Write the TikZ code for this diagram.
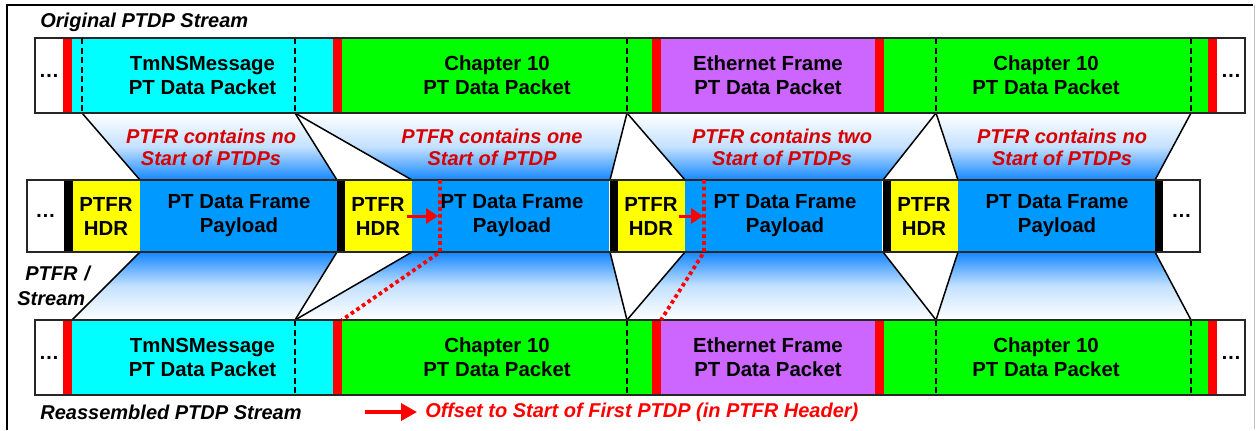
\documentclass[tikz,border=0pt]{standalone}
\usepackage{fontspec}
\setmainfont{Liberation Sans}
\usetikzlibrary{arrows.meta}
\definecolor{pcyan}{RGB}{0,255,255}
\definecolor{pgreen}{RGB}{0,255,0}
\definecolor{ppurple}{RGB}{204,102,255}
\definecolor{pblue}{RGB}{0,153,255}
\definecolor{pyellow}{RGB}{255,255,0}
\definecolor{pred}{RGB}{255,0,0}
\definecolor{lblred}{RGB}{215,0,0}
\definecolor{gblue}{RGB}{20,135,255}
\tikzset{
  blk/.style={font=\bfseries\fontsize{10.2}{12}\selectfont, align=center, inner sep=0pt},
  ttl/.style={font=\bfseries\itshape\fontsize{10}{12}\selectfont, inner sep=0pt, anchor=west},
  rlbl/.style={font=\bfseries\itshape\fontsize{10}{11}\selectfont, text=lblred, align=center, inner sep=0pt},
  outline/.style={draw=black!85, line width=1pt},
  pdash/.style={draw=black, line width=1.2pt, dash pattern=on 3pt off 1.8pt},
  trap/.style={draw=black, line width=0.75pt},
  rdot/.style={draw=pred, line width=1.9pt, dash pattern=on 1.8pt off 1.6pt},
  offarrow/.style={draw=pred, line width=1.5pt, -{Triangle[length=6pt,width=7.5pt]}},
  gradtop/.style={top color=white, bottom color=gblue, middle color=gblue!25},
  gradbot/.style={top color=gblue, bottom color=white, middle color=gblue!25}
}
\begin{document}
\begin{tikzpicture}[x=0.5pt,y=-0.5pt]
\useasboundingbox (0,0) rectangle (1257,430);
% frame
\draw[black, line width=1pt] (7,430) -- (7,5) -- (1253,5);
\draw[black!25, line width=0.5pt] (1254,5) -- (1254,429);

% named coordinates
\foreach \n/\x in {1/82,2/295,3/627,4/936,5/1191} {
  \coordinate (t\n) at (\x,113);
  \coordinate (b\n) at (\x,320);
}
\coordinate (b1) at (72,320);
\foreach \n/\x in {1/140,2a/337,2b/412,3a/610,3b/685,4a/883,4b/958,5/1155} {
  \coordinate (m\n) at (\x,180);
  \coordinate (n\n) at (\x,252);
}

% gradients
\shade[gradtop] (t1) -- (t2) -- (m2a) -- (m1) -- cycle;
\shade[gradtop] (t2) -- (t3) -- (m3a) -- (m2b) -- cycle;
\shade[gradtop] (t3) -- (t4) -- (m4a) -- (m3b) -- cycle;
\shade[gradtop] (t4) -- (t5) -- (m5) -- (m4b) -- cycle;
\shade[gradbot] (n1) -- (n2a) -- (b2) -- (b1) -- cycle;
\shade[gradbot] (n2b) -- (n3a) -- (b3) -- (b2) -- cycle;
\shade[gradbot] (n3b) -- (n4a) -- (b4) -- (b3) -- cycle;
\shade[gradbot] (n4b) -- (n5) -- (b5) -- (b4) -- cycle;

% trapezoid edges
\draw[trap] (t1) -- (m1);
\draw[trap] (t2) -- (m2a);
\draw[trap] (t2) -- (m2b);
\draw[trap] (t3) -- (m3a);
\draw[trap] (t3) -- (m3b);
\draw[trap] (t4) -- (m4a);
\draw[trap] (t4) -- (m4b);
\draw[trap] (t5) -- (m5);
\draw[trap] (n1) -- (b1);
\draw[trap] (n2a) -- (b2);
\draw[trap] (n2b) -- (b2);
\draw[trap] (n3a) -- (b3);
\draw[trap] (n3b) -- (b3);
\draw[trap] (n4a) -- (b4);
\draw[trap] (n4b) -- (b4);
\draw[trap] (n5) -- (b5);

% PTDP streams (top and bottom)
\foreach \ya/\yb in {38/113, 320/395} {
  \fill[white] (35,\ya) rectangle (63,\yb);
  \fill[pred] (63,\ya) rectangle (72,\yb);
  \fill[pcyan] (72,\ya) rectangle (333,\yb);
  \fill[pred] (333,\ya) rectangle (342,\yb);
  \fill[pgreen] (342,\ya) rectangle (652,\yb);
  \fill[pred] (652,\ya) rectangle (661,\yb);
  \fill[ppurple] (661,\ya) rectangle (875,\yb);
  \fill[pred] (875,\ya) rectangle (884,\yb);
  \fill[pgreen] (884,\ya) rectangle (1208,\yb);
  \fill[pred] (1208,\ya) rectangle (1217,\yb);
  \fill[white] (1217,\ya) rectangle (1245,\yb);
  \draw[pdash] (295,\ya) -- (295,\yb);
  \draw[pdash] (627,\ya) -- (627,\yb);
  \draw[pdash] (936,\ya) -- (936,\yb);
  \draw[pdash] (1191,\ya) -- (1191,\yb);
  \draw[outline] (35,\ya) rectangle (1245,\yb);
}
\draw[pdash] (82,38) -- (82,113);

% top stream texts
\node[blk] (tdots1) at (49,75.5) {…};
\node[blk] (ttmns) at (202.5,75.5) {TmNSMessage\\PT Data Packet};
\node[blk] (tch10a) at (497,75.5) {Chapter 10\\PT Data Packet};
\node[blk] (teth) at (768,75.5) {Ethernet Frame\\PT Data Packet};
\node[blk] (tch10b) at (1046,75.5) {Chapter 10\\PT Data Packet};
\node[blk] (tdots2) at (1231,75.5) {…};
% bottom stream texts
\node[blk] (bdots1) at (49,357.5) {…};
\node[blk] (btmns) at (202.5,357.5) {TmNSMessage\\PT Data Packet};
\node[blk] (bch10a) at (497,357.5) {Chapter 10\\PT Data Packet};
\node[blk] (beth) at (768,357.5) {Ethernet Frame\\PT Data Packet};
\node[blk] (bch10b) at (1046,357.5) {Chapter 10\\PT Data Packet};
\node[blk] (bdots2) at (1231,357.5) {…};

% PTFR stream (middle)
\fill[white] (27,180) rectangle (64,252);
\fill[black] (64,180) rectangle (72,252);
\fill[black] (337,180) rectangle (344,252);
\fill[black] (610,180) rectangle (617,252);
\fill[black] (883,180) rectangle (890,252);
\fill[black] (1155,180) rectangle (1163,252);
\fill[white] (1163,180) rectangle (1200,252);
\foreach \x in {72,344,617,890} {
  \filldraw[fill=pyellow, draw=black, line width=0.5pt] (\x,180) rectangle ({\x+68},252);
  \fill[pblue] ({\x+68},180) rectangle ({\x+265},252);
}
\draw[outline] (27,180) rectangle (1200,252);

\node[blk] (mdots1) at (45.5,216) {…};
\node[blk] (mdots2) at (1181.5,216) {…};
\node[blk] (hdr1) at (106,216) {PTFR\\HDR};
\node[blk] (hdr2) at (378,216) {PTFR\\HDR};
\node[blk] (hdr3) at (651,216) {PTFR\\HDR};
\node[blk] (hdr4) at (924,216) {PTFR\\HDR};
\node[blk] (pay1) at (239,216) {PT Data Frame\\Payload};
\node[blk] (pay2) at (512,216) {PT Data Frame\\Payload};
\node[blk] (pay3) at (785,216) {PT Data Frame\\Payload};
\node[blk] (pay4) at (1057,216) {PT Data Frame\\Payload};

% red dotted start markers
\coordinate (s1t) at (440,180);
\coordinate (s1b) at (440,252);
\coordinate (s1e) at (342,320);
\coordinate (s2t) at (704,180);
\coordinate (s2b) at (704,252);
\coordinate (s2e) at (661,320);
\draw[rdot] (s1t) -- (s1b) -- (s1e);
\draw[rdot] (s2t) -- (s2b) -- (s2e);

% offset arrows
\coordinate (a1s) at (407,216);
\coordinate (a1e) at (438,216);
\coordinate (a2s) at (679,216);
\coordinate (a2e) at (703,216);
\draw[offarrow] (a1s) -- (a1e);
\draw[offarrow] (a2s) -- (a2e);

% red labels
\node[rlbl] (lab1) at (211,147) {PTFR contains no\\Start of PTDPs};
\node[rlbl] (lab2) at (492,147) {PTFR contains one\\Start of PTDP};
\node[rlbl] (lab3) at (782,147) {PTFR contains two\\Start of PTDPs};
\node[rlbl] (lab4) at (1062,147) {PTFR contains no\\Start of PTDPs};

% titles
\node[ttl] (orig) at (40,22) {Original PTDP Stream};
\node[ttl] (reas) at (40,412) {Reassembled PTDP Stream};
\node[ttl] (ptfrs1) at (25,273) {PTFR\,\,/};
\node[ttl] (ptfrs2) at (17,299) {Stream};

% legend
\coordinate (lgs) at (365,412);
\coordinate (lge) at (417,412);
\draw[draw=pred, line width=1.8pt, -{Triangle[length=8pt,width=8.5pt]}] (lgs) -- (lge);
\node[ttl, text=pred] (legend) at (425,412) {Offset to Start of First PTDP (in PTFR Header)};
\end{tikzpicture}
\end{document}
